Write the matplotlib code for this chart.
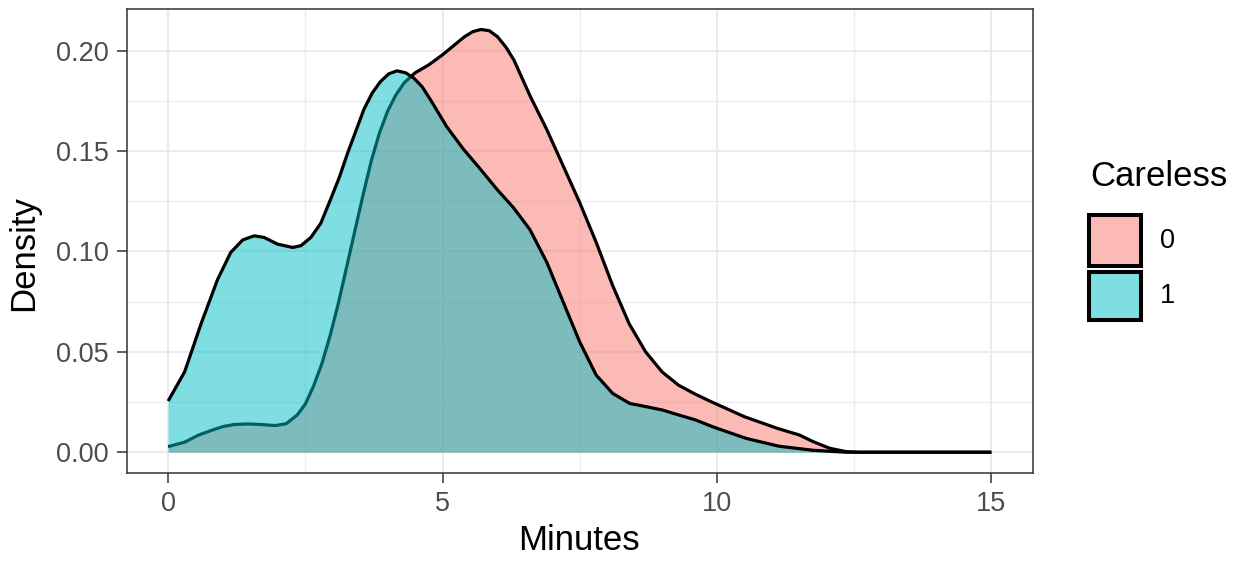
import matplotlib
matplotlib.use("Agg")
import matplotlib.pyplot as plt
from matplotlib.patches import Rectangle
from matplotlib.ticker import MultipleLocator

plt.rcParams["font.family"] = ["Liberation Sans", "DejaVu Sans"]

# ─── DATA (density curves) ───────────────────────────────────────────────────

groups = ["0", "1"]

minutes_0 = [0, 0.3, 0.55, 0.8, 1.0, 1.2, 1.45, 1.7, 1.95, 2.15, 2.35, 2.5,
             2.65, 2.8, 2.95, 3.1, 3.25, 3.4, 3.55, 3.7, 3.85, 4.0, 4.15, 4.3,
             4.5, 4.75, 5.0, 5.2, 5.4, 5.55, 5.7, 5.85, 6.0, 6.15, 6.3, 6.6,
             6.9, 7.2, 7.5, 7.8, 8.1, 8.4, 8.7, 9.0, 9.3, 9.6, 9.9, 10.5,
             11.1, 11.5, 11.75, 12.05, 12.35, 12.6, 15]
density_0 = [0.0028, 0.005, 0.0085, 0.011, 0.0128, 0.0138, 0.0141, 0.0138,
             0.0133, 0.0142, 0.0185, 0.024, 0.033, 0.044, 0.058, 0.074, 0.092,
             0.110, 0.128, 0.145, 0.159, 0.170, 0.178, 0.184, 0.189, 0.193,
             0.198, 0.2025, 0.207, 0.2095, 0.2106, 0.2100, 0.207, 0.202,
             0.1954, 0.1772, 0.1607, 0.1425, 0.1243, 0.1045, 0.083, 0.064,
             0.050, 0.040, 0.0334, 0.029, 0.0251, 0.0177, 0.0119, 0.0086,
             0.0053, 0.002, 0.0003, 0.0, 0.0]

minutes_1 = [0, 0.3, 0.6, 0.9, 1.14, 1.36, 1.57, 1.75, 1.99, 2.27, 2.42, 2.6,
             2.78, 2.96, 3.12, 3.27, 3.42, 3.57, 3.72, 3.87, 4.02, 4.17, 4.33,
             4.48, 4.63, 4.78, 5.08, 5.38, 5.69, 5.99, 6.29, 6.59, 6.9, 7.2,
             7.5, 7.8, 8.1, 8.41, 8.71, 9.01, 9.31, 9.62, 9.92, 10.53, 11.13,
             11.74, 12.35, 15]
density_1 = [0.0255, 0.040, 0.064, 0.086, 0.0995, 0.1058, 0.1078, 0.107,
             0.1037, 0.102, 0.1029, 0.107, 0.114, 0.126, 0.137, 0.149, 0.160,
             0.171, 0.179, 0.1847, 0.1885, 0.190, 0.189, 0.1863, 0.182,
             0.1756, 0.162, 0.151, 0.141, 0.131, 0.1219, 0.111, 0.0946,
             0.0747, 0.0549, 0.0384, 0.0293, 0.0243, 0.0227, 0.021, 0.0185,
             0.016, 0.0127, 0.0069, 0.003, 0.001, 0.0, 0.0]

x_ticks = [0, 5, 10, 15]
y_ticks = [0.00, 0.05, 0.10, 0.15, 0.20]

FILLS = ["#F8766D", "#00BFC4"]
GRID = "#EBEBEB"
DARK = "#333333"

# ─── PLOT ─────────────────────────────────────────────────────────────────────

fig = plt.figure(figsize=(12.46, 5.63), dpi=100)
ax = fig.add_axes([0.1019, 0.1593, 0.7268, 0.8247])

series = [(minutes_0, density_0), (minutes_1, density_1)]
for (xs, ys), col in zip(series, FILLS):
    ax.fill_between(xs, 0, ys, color=col, alpha=0.5, lw=0, zorder=2)
    ax.plot(xs, ys, color="black", lw=2.3, solid_joinstyle="round",
            solid_capstyle="butt", zorder=2)

ax.set_xlim(-0.75, 15.75)
ax.set_ylim(-0.0105, 0.2208)
ax.set_xticks(x_ticks)
ax.set_xticklabels([str(v) for v in x_ticks])
ax.set_yticks(y_ticks)
ax.set_yticklabels([f"{v:.2f}" for v in y_ticks])
ax.xaxis.set_minor_locator(MultipleLocator(2.5))
ax.yaxis.set_minor_locator(MultipleLocator(0.025))

ax.grid(which="major", color=GRID, lw=1.5, zorder=0)
ax.grid(which="minor", color=GRID, lw=0.9, zorder=0)
ax.set_axisbelow(True)

for sp in ax.spines.values():
    sp.set_color(DARK)
    sp.set_linewidth(1.1)
ax.tick_params(which="major", length=7, width=1.1, color=DARK,
               labelsize=19.5, labelcolor="#4D4D4D", pad=6)
ax.tick_params(which="minor", length=0)

fig.text(0.4647, 0.040, "Minutes", fontsize=25, ha="center", va="center")
fig.text(0.0193, 0.55, "Density", fontsize=25, rotation=90,
         ha="center", va="center")

# ─── LEGEND (drawn by hand, ggplot style) ────────────────────────────────────

W, H = 1246, 563
fig.text(1090 / W, 1 - 176 / H, "Careless", fontsize=25, ha="left", va="center")
key_boxes = [(214.7, 266.3), (272.0, 319.7)]
for (top, bot), col, lab in zip(key_boxes, FILLS, groups):
    rect = dict(xy=(1089.3 / W, 1 - bot / H), width=52 / W,
                height=(bot - top) / H, transform=fig.transFigure)
    fig.patches.append(Rectangle(**rect, facecolor=col, alpha=0.5,
                                 edgecolor="none"))
    fig.patches.append(Rectangle(**rect, facecolor="none", edgecolor="black",
                                 lw=2.9))
    fig.text(1160 / W, 1 - (top + bot) / 2 / H, lab, fontsize=19.5,
             ha="left", va="center")

fig.savefig("out.png", dpi=100)
